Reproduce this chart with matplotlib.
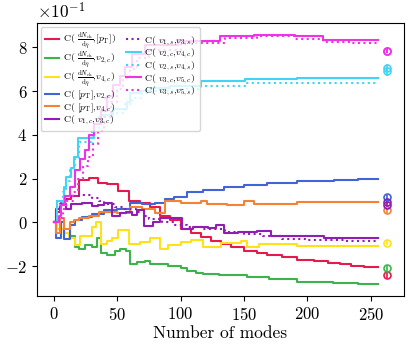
import numpy as np
import matplotlib
matplotlib.use('Agg')
import matplotlib.pyplot as plt

plt.rcParams['font.family'] = 'cmr10'
plt.rcParams['mathtext.fontset'] = 'cm'
plt.rcParams['axes.formatter.use_mathtext'] = True

N_MODES = 256
MARKER_X = 263

# step curves: mode index where value changes, value (in units of 1e-1)
red_x = [0, 2, 5, 9, 14, 20, 28, 35, 42, 51, 59, 68, 76, 84, 92, 100, 108, 116, 124, 132, 140, 150, 160, 168, 180, 192, 205, 216, 226, 234, 245]
red_y = [0, 0.5, 0.8, 1.05, 1.2, 1.95, 2.05, 1.8, 1.75, 1.45, 1.0, 0.9, 0.7, 0.3, 0.1, -0.3, -0.5, -0.65, -0.85, -1.0, -1.1, -1.3, -1.4, -1.5, -1.6, -1.72, -1.78, -1.85, -1.9, -1.97, -2.02]

green_x = [0, 3, 8, 12, 17, 20, 25, 30, 34, 37, 42, 48, 52, 57, 60, 66, 72, 76, 90, 100, 105, 112, 118, 130, 152, 170, 192, 220, 240]
green_y = [0, -0.3, -0.5, -0.6, -1.1, -1.2, -1.05, -1.1, -0.7, -1.4, -1.5, -1.3, -1.2, -1.3, -1.9, -1.8, -1.75, -1.9, -2.0, -2.1, -2.2, -2.3, -2.35, -2.4, -2.5, -2.6, -2.7, -2.75, -2.8]

yellow_x = [0, 3, 8, 12, 17, 21, 30, 33, 37, 42, 46, 51, 59, 68, 76, 84, 90, 100, 108, 118, 132, 148, 152, 162, 192]
yellow_y = [0, -0.3, -0.5, -0.7, -1.05, -0.6, -0.2, 0.0, -1.0, -0.85, -0.7, -0.35, -1.0, -0.9, -0.7, -1.2, -1.05, -0.9, -0.8, -1.1, -0.95, -0.85, -1.1, -1.0, -1.07]

blue_x = [0, 2, 6, 8, 13, 17, 22, 30, 40, 50, 60, 70, 80, 88, 95, 105, 118, 134, 150, 168, 192, 221, 240]
blue_y = [0, -0.7, 0.0, -0.75, -0.1, 0.1, 0.25, 0.4, 0.55, 0.6, 0.9, 0.85, 0.9, 1.05, 1.15, 1.4, 1.5, 1.6, 1.7, 1.8, 1.9, 1.95, 2.0]

orange_x = [0, 2, 5, 8, 13, 16, 20, 28, 36, 50, 60, 70, 80, 88, 100, 116, 121, 137, 150, 158, 192]
orange_y = [0, -0.5, 0.2, -0.3, 0.0, 0.1, 0.2, 0.3, 0.5, 0.45, 0.7, 0.6, 0.45, 1.0, 0.9, 0.98, 0.85, 0.78, 1.0, 0.85, 0.92]

purple_x = [0, 2, 5, 10, 14, 22, 30, 35, 40, 46, 52, 57, 62, 66, 71, 78, 84, 101, 110, 122, 128, 134, 145, 160, 171, 213]
purple_y = [0, 0.6, 0.85, 0.6, 0.85, 0.9, 0.75, 0.8, 0.9, 0.3, 0.45, 0.5, 0.35, 0.55, -0.15, 0.0, 0.2, -0.3, -0.22, -0.25, -0.12, -0.5, -0.45, -0.4, -0.6, -0.72]

purple_s_x = [0, 3, 6, 8, 10, 20, 30, 36, 40, 48, 55, 65, 71, 75, 85, 95, 105, 118, 135, 150, 165, 180, 200, 230]
purple_s_y = [0, 1.0, 0.9, 0.6, 1.2, 1.25, 1.1, 1.0, 0.85, 0.7, 0.6, 0.5, 0.3, 0.15, 0.0, -0.1, -0.2, -0.3, -0.45, -0.55, -0.6, -0.75, -0.8, -0.85]

cyan_x = [0, 3, 8, 10, 14, 16, 19, 32, 37, 47, 58, 60, 68, 76, 92, 116, 151, 192]
cyan_y = [0, 1.0, 1.6, 2.1, 2.5, 3.0, 3.85, 4.5, 4.9, 5.2, 5.5, 5.9, 6.0, 6.15, 6.25, 6.45, 6.55, 6.58]

cyan_s_x = [0, 3, 7, 10, 13, 17, 20, 30, 36, 46, 56, 62, 70, 80, 100, 116, 151]
cyan_s_y = [0, 0.8, 1.4, 1.9, 2.4, 2.9, 3.7, 4.3, 4.8, 5.0, 5.4, 5.7, 5.9, 6.0, 6.1, 6.25, 6.38]

magenta_x = [0, 4, 6, 9, 13, 17, 21, 25, 28, 32, 37, 42, 47, 52, 56, 62, 72, 98, 131, 158, 190, 212]
magenta_y = [0, 0.3, 0.8, 1.2, 1.6, 2.4, 2.9, 3.3, 4.0, 4.5, 5.1, 5.8, 6.3, 6.7, 7.1, 7.7, 8.1, 8.3, 8.5, 8.55, 8.5, 8.32]

magenta_s_x = [0, 4, 7, 10, 15, 19, 23, 27, 31, 35, 40, 45, 50, 55, 60, 66, 75, 100, 135, 160, 190, 212, 235]
magenta_s_y = [0, 0.2, 0.6, 1.0, 1.4, 2.0, 2.6, 3.0, 3.6, 4.2, 4.8, 5.5, 6.1, 6.6, 7.0, 7.5, 7.9, 8.2, 8.45, 8.5, 8.4, 8.25, 8.2]

# reference values shown as points with error bars at the right
ref_vals = [-2.4, -2.1, -0.92, 1.15, 0.55, 0.95, 0.82, 7.05, 6.9, 7.85, 7.85]
ref_errs = [0.12, 0.12, 0.12, 0.12, 0.12, 0.12, 0.12, 0.2, 0.2, 0.12, 0.12]

frac = r'\frac{\mathrm{d}N_{\mathrm{ch}}}{\mathrm{d}\eta}'
labels = [
    r'C( $' + frac + r'$,$[p_{\mathrm{T}}]$)',
    r'C( $' + frac + r'$,$v_{2,c}$)',
    r'C( $' + frac + r'$,$v_{4,c}$)',
    r'C( $[p_{\mathrm{T}}]$,$v_{2,c}$)',
    r'C( $[p_{\mathrm{T}}]$,$v_{4,c}$)',
    r'C( $v_{1,c}$,$v_{3,c}$)',
    r'C( $v_{1,s}$,$v_{3,s}$)',
    r'C( $v_{2,c}$,$v_{4,c}$)',
    r'C( $v_{2,s}$,$v_{4,s}$)',
    r'C( $v_{3,c}$,$v_{5,c}$)',
    r'C( $v_{3,s}$,$v_{5,s}$)',
]
colors = ['#e6194b', '#3cb44b', '#ffe119', '#4363d8', '#f58231', '#911eb4',
          '#911eb4', '#42d4f4', '#42d4f4', '#f032e6', '#f032e6']
styles = ['-', '-', '-', '-', '-', '-', ':', '-', ':', '-', ':']
curves = [(red_x, red_y), (green_x, green_y), (yellow_x, yellow_y), (blue_x, blue_y),
          (orange_x, orange_y), (purple_x, purple_y), (purple_s_x, purple_s_y),
          (cyan_x, cyan_y), (cyan_s_x, cyan_s_y), (magenta_x, magenta_y),
          (magenta_s_x, magenta_s_y)]

fig = plt.figure(figsize=(4.11, 3.48), dpi=100)
ax = fig.add_axes([0.09, 0.149, 0.893, 0.785])

for (cx, cy), lab, col, ls in zip(curves, labels, colors, styles):
    x = np.append(cx, N_MODES)
    y = np.append(cy, cy[-1]) * 0.1
    ax.step(x, y, where='post', color=col, ls=ls, lw=1.5, label=lab)

for val, err, col in zip(ref_vals, ref_errs, colors):
    ax.errorbar(MARKER_X, val * 0.1, yerr=err * 0.1, fmt='o', mfc='none', mec=col,
                ecolor=col, ms=5, mew=1.2, elinewidth=1.2)

ax.ticklabel_format(axis='y', style='sci', scilimits=(-1, -1), useMathText=True)
ax.tick_params(labelsize=12)
ax.yaxis.get_offset_text().set_fontsize(12.5)
ax.set_xticks([0, 50, 100, 150, 200, 250])
ax.set_yticks([-0.2, 0, 0.2, 0.4, 0.6, 0.8])
ax.set_xlabel('Number of modes', fontsize=12.5, labelpad=2)

ax.legend(loc='upper left', ncol=2, fontsize=7.0, handlelength=1.5, columnspacing=1.0,
          labelspacing=-0.12, borderpad=0.4, handletextpad=0.4, borderaxespad=0.4)

fig.savefig('out.png', dpi=100)
